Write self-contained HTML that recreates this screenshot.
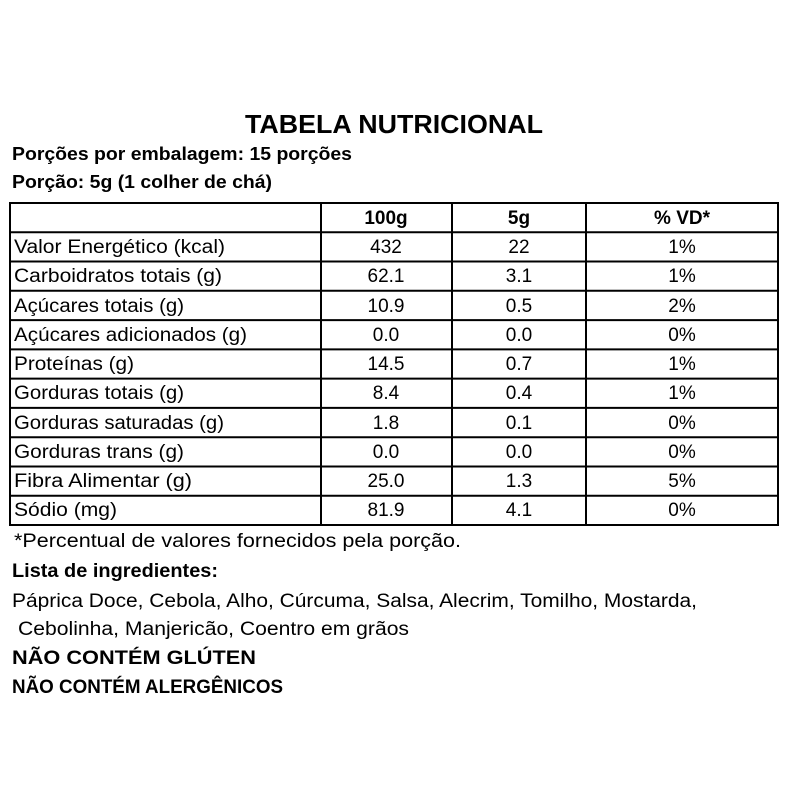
<!DOCTYPE html>
<html><head><meta charset="utf-8"><style>
body{margin:0;background:#fff;}
svg{display:block;}
text{font-family:"Liberation Sans",sans-serif;fill:#000;}
.b{font-weight:bold;}
</style></head><body>
<svg width="800" height="800" viewBox="0 0 800 800" xmlns="http://www.w3.org/2000/svg">
<rect width="800" height="800" fill="#fff"/>
<text x="245" y="133" class="b" font-size="26" textLength="298" lengthAdjust="spacingAndGlyphs">TABELA NUTRICIONAL</text>
<text x="12" y="160" class="b" font-size="18" textLength="340" lengthAdjust="spacingAndGlyphs">Porções por embalagem: 15 porções</text>
<text x="12" y="188" class="b" font-size="18" textLength="260" lengthAdjust="spacingAndGlyphs">Porção: 5g (1 colher de chá)</text>
<g stroke="#000" stroke-width="2" fill="none">
<rect x="10" y="203" width="768" height="322"/>
<line x1="321" y1="203" x2="321" y2="525"/>
<line x1="452" y1="203" x2="452" y2="525"/>
<line x1="586" y1="203" x2="586" y2="525"/>
<line x1="10" x2="778" y1="232.3" y2="232.3"/>
<line x1="10" x2="778" y1="261.5" y2="261.5"/>
<line x1="10" x2="778" y1="290.8" y2="290.8"/>
<line x1="10" x2="778" y1="320.1" y2="320.1"/>
<line x1="10" x2="778" y1="349.4" y2="349.4"/>
<line x1="10" x2="778" y1="378.6" y2="378.6"/>
<line x1="10" x2="778" y1="407.9" y2="407.9"/>
<line x1="10" x2="778" y1="437.2" y2="437.2"/>
<line x1="10" x2="778" y1="466.5" y2="466.5"/>
<line x1="10" x2="778" y1="495.7" y2="495.7"/>
</g>
<g font-size="19">
<g class="b" text-anchor="middle"><text x="386" y="224">100g</text><text x="519" y="224">5g</text><text x="682" y="224">% VD*</text></g>
<g>
<text x="14" y="253" textLength="211" lengthAdjust="spacingAndGlyphs">Valor Energético (kcal)</text>
<text x="14" y="282" textLength="208" lengthAdjust="spacingAndGlyphs">Carboidratos totais (g)</text>
<text x="14" y="312" textLength="170" lengthAdjust="spacingAndGlyphs">Açúcares totais (g)</text>
<text x="14" y="341" textLength="233" lengthAdjust="spacingAndGlyphs">Açúcares adicionados (g)</text>
<text x="14" y="370" textLength="120" lengthAdjust="spacingAndGlyphs">Proteínas (g)</text>
<text x="14" y="399" textLength="170" lengthAdjust="spacingAndGlyphs">Gorduras totais (g)</text>
<text x="14" y="429" textLength="210" lengthAdjust="spacingAndGlyphs">Gorduras saturadas (g)</text>
<text x="14" y="458" textLength="170" lengthAdjust="spacingAndGlyphs">Gorduras trans (g)</text>
<text x="14" y="487" textLength="178" lengthAdjust="spacingAndGlyphs">Fibra Alimentar (g)</text>
<text x="14" y="516" textLength="103" lengthAdjust="spacingAndGlyphs">Sódio (mg)</text>
</g>
<g text-anchor="middle">
<text x="386" y="253">432</text><text x="519" y="253">22</text><text x="682" y="253">1%</text>
<text x="386" y="282">62.1</text><text x="519" y="282">3.1</text><text x="682" y="282">1%</text>
<text x="386" y="312">10.9</text><text x="519" y="312">0.5</text><text x="682" y="312">2%</text>
<text x="386" y="341">0.0</text><text x="519" y="341">0.0</text><text x="682" y="341">0%</text>
<text x="386" y="370">14.5</text><text x="519" y="370">0.7</text><text x="682" y="370">1%</text>
<text x="386" y="399">8.4</text><text x="519" y="399">0.4</text><text x="682" y="399">1%</text>
<text x="386" y="429">1.8</text><text x="519" y="429">0.1</text><text x="682" y="429">0%</text>
<text x="386" y="458">0.0</text><text x="519" y="458">0.0</text><text x="682" y="458">0%</text>
<text x="386" y="487">25.0</text><text x="519" y="487">1.3</text><text x="682" y="487">5%</text>
<text x="386" y="516">81.9</text><text x="519" y="516">4.1</text><text x="682" y="516">0%</text>
</g>
<text x="14" y="547" textLength="447" lengthAdjust="spacingAndGlyphs">*Percentual de valores fornecidos pela porção.</text>
<text x="12" y="577" class="b" textLength="206" lengthAdjust="spacingAndGlyphs">Lista de ingredientes:</text>
<text x="12" y="607" textLength="685" lengthAdjust="spacingAndGlyphs">Páprica Doce, Cebola, Alho, Cúrcuma, Salsa, Alecrim, Tomilho, Mostarda,</text>
<text x="18" y="635" textLength="391" lengthAdjust="spacingAndGlyphs">Cebolinha, Manjericão, Coentro em grãos</text>
<text x="12" y="664" class="b" textLength="244" lengthAdjust="spacingAndGlyphs">NÃO CONTÉM GLÚTEN</text>
<text x="12" y="693" class="b" textLength="271" lengthAdjust="spacingAndGlyphs">NÃO CONTÉM ALERGÊNICOS</text>
</g>
</svg>
</body></html>
